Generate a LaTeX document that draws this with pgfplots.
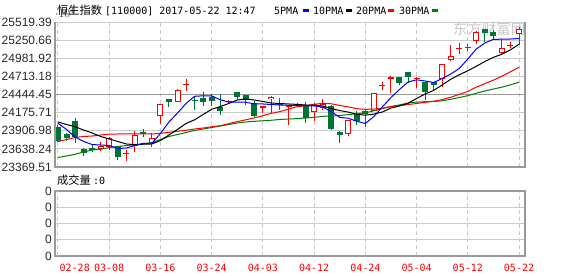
\documentclass[border=0pt]{standalone}
\usepackage{fontspec}
\setmainfont{Liberation Sans}
\newfontfamily\cjk{Noto Sans CJK SC}
\newfontfamily\mono{DejaVu Sans Mono}
\usepackage{pgfplots}
\usepackage{pgfplotstable}
\pgfplotsset{compat=1.18}
\definecolor{cdred}{RGB}{255,0,0}
\definecolor{cdgreen}{RGB}{0,115,55}
\definecolor{magreen}{RGB}{0,128,0}
\definecolor{gridc}{RGB}{204,204,204}
\definecolor{framec}{RGB}{153,153,153}
\definecolor{labc}{RGB}{40,40,40}
\definecolor{wm}{RGB}{200,200,200}

% up (red) candles: index open close high low
\pgfplotstableread{
i o c h l
5 23636 23685 23736 23611
6 23666 23800 23810 23622
8 23558 23577 23622 23459
9 23681 23844 23896 23592
11 23730 23804 23870 23672
12 24121 24299 24304 24012
14 24329 24511 24519 24326
15 24588 24603 24670 24501
20 24338 24353 24363 24318
24 24249 24278 24281 24166
25 24378 24412 24415 24166
27 24263 24278 24281 23992
30 24185 24311 24318 24052
31 24237 24311 24385 24215
34 23859 24066 24066 23829
37 24204 24462 24467 24200
38 24575 24590 24634 24511
39 24670 24700 24719 24462
42 24670 24685 24700 24536
45 24670 24892 24897 24560
46 24956 25015 25178 24941
47 25121 25136 25204 25041
48 25136 25151 25189 25089
49 25238 25376 25379 25189
52 25055 25129 25267 25052
53 25160 25175 25227 25129
54 25342 25416 25445 25178
}\upc

% down (green) candles: index open close high low
\pgfplotstableread{
i o c h l
0 23967 23755 23985 23740
1 23859 23795 23878 23759
2 24052 23819 24092 23725
3 23636 23577 23656 23528
4 23651 23629 23696 23592
7 23681 23522 23688 23473
10 23893 23859 23933 23814
13 24378 24329 24385 24255
16 24360 24345 24403 24215
17 24397 24338 24486 24274
18 24412 24353 24452 24274
19 24255 24204 24452 24140
21 24477 24412 24486 24373
22 24437 24356 24444 24289
23 24314 24130 24341 24118
26 24314 24289 24388 24215
28 24304 24289 24318 24274
29 24289 24100 24333 24022
32 24278 23940 24289 23918
33 23893 23844 23896 23730
35 24151 24056 24204 23992
36 24204 24155 24225 23970
40 24700 24619 24704 24585
41 24774 24708 24778 24619
43 24630 24486 24637 24363
44 24625 24585 24630 24511
50 25416 25352 25423 25219
51 25367 25312 25401 25253
}\dnc

% moving averages
\pgfplotstableread{
i m5 m10 m20 m30
0 24017 24037 23748 23510
1 23926 24000 23777 23533
2 23814 23967 23807 23558
3 23748 23918 23822 23592
4 23703 23874 23829 23622
5 23696 23822 23844 23632
6 23688 23785 23856 23659
7 23644 23748 23859 23673
8 23651 23711 23859 23688
9 23688 23700 23859 23700
10 23721 23708 23859 23711
11 23722 23711 23859 23733
12 23866 23762 23869 23777
13 24037 23844 23884 23822
14 24170 23926 23899 23851
15 24311 24015 23914 23881
16 24418 24069 23933 23911
17 24425 24148 23948 23933
18 24425 24225 23966 23955
19 24366 24265 23982 23977
20 24333 24311 24012 24000
21 24333 24363 24043 24022
22 24330 24378 24069 24037
23 24304 24363 24098 24047
24 24304 24341 24130 24055
25 24296 24318 24166 24063
26 24289 24311 24191 24074
27 24284 24304 24228 24081
28 24284 24298 24264 24087
29 24278 24289 24277 24096
30 24274 24284 24299 24106
31 24259 24274 24314 24120
32 24192 24237 24307 24126
33 24106 24206 24283 24133
34 24092 24184 24261 24146
35 24047 24151 24234 24160
36 24015 24138 24224 24173
37 24117 24154 24229 24203
38 24262 24185 24241 24237
39 24400 24244 24267 24265
40 24519 24274 24280 24290
41 24630 24314 24295 24318
42 24662 24385 24311 24332
43 24645 24452 24329 24338
44 24622 24505 24344 24342
45 24682 24585 24369 24351
46 24748 24670 24404 24373
47 24830 24737 24447 24400
48 24971 24796 24490 24427
49 25119 24863 24554 24464
50 25208 24934 24606 24496
51 25263 24996 24657 24526
52 25264 25042 24716 24553
53 25267 25107 24781 24588
54 25275 25190 24849 24627
}\ma

\newcommand{\tickfont}{\fontsize{12bp}{14bp}\selectfont}
\newcommand{\monofont}{\mono\fontsize{10bp}{12bp}\selectfont}
\newcommand{\cjkfont}{\cjk\fontsize{11.25bp}{12bp}\selectfont}

\pgfplotsset{
  candle/.style 2 args={forget plot, draw=none, mark=none,
    error bars/.cd, y dir=plus, y explicit, error mark=none,
    error bar style={solid, line width=#1, draw=#2}},
}

\begin{document}
\begin{tikzpicture}
\path[use as bounding box] (0bp,0bp) rectangle (578bp,-276bp);

% watermark
\node[anchor=base, text=wm, inner sep=0pt] at (489bp,-34bp) {\cjk\fontsize{14.5bp}{15bp}\selectfont 东方财富网};

% title line
\node[anchor=base west, inner sep=0pt] at (57bp,-14.5bp) {\cjkfont 恒生指数};
\node[anchor=base west, inner sep=0pt] at (105bp,-14.5bp) {\monofont[110000] 2017-05-22 12:47};
\node[anchor=base west, inner sep=0pt] at (274bp,-14.5bp) {\monofont 5PMA};
\node[anchor=base west, inner sep=0pt] at (313bp,-14.5bp) {\monofont 10PMA};
\node[anchor=base west, inner sep=0pt] at (356bp,-14.5bp) {\monofont 20PMA};
\node[anchor=base west, inner sep=0pt] at (399bp,-14.5bp) {\monofont 30PMA};
\node[anchor=base west, inner sep=0pt] at (303bp,-14.5bp) {\textcolor{blue}{\rule[3bp]{6bp}{3bp}}};
\node[anchor=base west, inner sep=0pt] at (346bp,-14.5bp) {\textcolor{black}{\rule[3bp]{6bp}{3bp}}};
\node[anchor=base west, inner sep=0pt] at (388bp,-14.5bp) {\textcolor{cdred}{\rule[3bp]{6bp}{3bp}}};
\node[anchor=base west, inner sep=0pt] at (432bp,-14.5bp) {\textcolor{magreen}{\rule[3bp]{6bp}{3bp}}};

% volume caption
\node[anchor=base west, inner sep=0pt] at (57bp,-184.5bp) {\cjkfont 成交量};
\node[anchor=base west, inner sep=0pt] at (93bp,-184.5bp) {\monofont :0};

% ---------------- main price panel ----------------
\begin{axis}[
  at={(55bp,-167bp)}, anchor=south west,
  scale only axis, width=470bp, height=145bp,
  xmin=-0.35, xmax=54.7, ymin=23369.51, ymax=25519.39,
  clip=false,
  xtick={0,6,...,54}, xticklabels={},
  ytick={25519.39,25250.66,24981.92,24713.18,24444.45,24175.71,23906.98,23638.24,23369.51},
  yticklabels={\mbox{25519.39},\mbox{25250.66},\mbox{24981.92},\mbox{24713.18},\mbox{24444.45},\mbox{24175.71},\mbox{23906.98},\mbox{23638.24},\mbox{23369.51}},
  yticklabel style={font=\tickfont, text=labc, anchor=east, inner sep=0pt, xshift=-3bp},
  major tick length=0pt,
  grid=major,
  x grid style={gridc, line width=1bp, dash pattern=on 4bp off 3bp},
  y grid style={gridc, line width=1bp},
  axis line style={gridc, line width=1bp},
]
% darker middle line
\draw[framec, line width=1bp] (rel axis cs:0,0.5) -- (rel axis cs:1,0.5);

% green candles: wicks then filled bodies
\addplot[candle={1bp}{cdgreen}]
  table[x=i, y=l, y error expr=\thisrow{h}-\thisrow{l}] {\dnc};
\addplot[candle={6bp}{cdgreen}]
  table[x=i, y=c, y error expr=\thisrow{o}-\thisrow{c}] {\dnc};

% red candles: wicks, outline bodies, hollow interior
\addplot[candle={1bp}{cdred}]
  table[x=i, y=l, y error expr=\thisrow{h}-\thisrow{l}] {\upc};
\addplot[candle={6bp}{cdred}]
  table[x=i, y=o, y error expr=\thisrow{c}-\thisrow{o}] {\upc};
\addplot[candle={4bp}{white}]
  table[x=i, y expr=\thisrow{o}+15, y error expr={max(\thisrow{c}-\thisrow{o}-30,0)}] {\upc};

% moving averages
\addplot[magreen, line width=1bp, mark=none] table[x=i, y=m30] {\ma};
\addplot[cdred, line width=1bp, mark=none] table[x=i, y=m20] {\ma};
\addplot[black, line width=1bp, mark=none] table[x=i, y=m10] {\ma};
\addplot[blue, line width=1bp, mark=none] table[x=i, y=m5] {\ma};

% frame
\draw[framec, line width=1.5bp] (rel axis cs:0,1) -- (rel axis cs:0,0) -- (rel axis cs:1,0) -- (rel axis cs:1,1);
\end{axis}

% ---------------- volume panel ----------------
\begin{axis}[
  at={(55bp,-256bp)}, anchor=south west,
  scale only axis, width=470bp, height=65bp,
  xmin=-0.35, xmax=54.7, ymin=0, ymax=4,
  xtick={6,12,...,54},
  xticklabels={\mbox{03-08},\mbox{03-16},\mbox{03-24},\mbox{04-03},\mbox{04-12},\mbox{04-24},\mbox{05-04},\mbox{05-12},\mbox{05-22}},
  extra x ticks={0}, extra x tick labels={\mbox{02-28}},
  extra x tick style={grid=major, xticklabel style={anchor=base west, xshift=1.5bp}},
  xticklabel style={font=\monofont, text=cdred, anchor=base, yshift=-15bp, inner sep=0pt},
  ytick={0,1,2,3,4}, yticklabels={\mbox{0},\mbox{0},\mbox{0},\mbox{0},\mbox{0}},
  yticklabel style={font=\tickfont, text=labc, anchor=east, inner sep=0pt, xshift=-3bp},
  major tick length=0pt,
  grid=major,
  x grid style={gridc, line width=1bp, dash pattern=on 4bp off 3bp},
  y grid style={gridc, line width=1bp},
  axis line style={framec, line width=1.5bp},
]
\end{axis}
\end{tikzpicture}
\end{document}
